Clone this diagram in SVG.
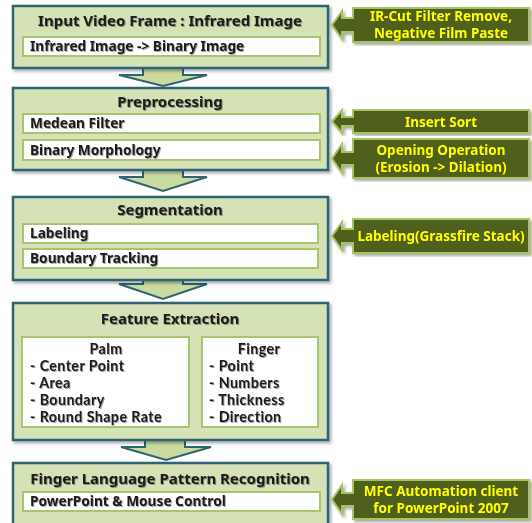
<svg xmlns="http://www.w3.org/2000/svg" width="532" height="523" viewBox="0 0 532 523">
<defs>
<filter id="sh" x="-5%" y="-5%" width="112%" height="115%">
<feDropShadow dx="2" dy="2" stdDeviation="1.5" flood-color="#000" flood-opacity="0.35"/>
</filter>
<filter id="ts" x="-5%" y="-20%" width="110%" height="150%">
<feDropShadow dx="1" dy="1" stdDeviation="0.6" flood-color="#000" flood-opacity="0.35"/>
</filter>
</defs>
<style>
.box{fill:#d4e2b6;stroke:#2f6474;stroke-width:2.5}
.inner{fill:#ffffff;stroke:#a9c46e;stroke-width:2}
.arr{fill:#c9dba0;stroke:#2f6474;stroke-width:2}
.co{fill:#4f5f1a;stroke:#a6c45e;stroke-width:2}
.t{font-family:"Noto Sans","Open Sans",sans-serif;font-weight:bold;fill:#1a1a1a}
.title{font-size:15px;text-anchor:middle}
.it{font-size:13.7px}
.li{font-family:Lato,"Noto Sans",sans-serif;font-weight:bold;fill:#1a1a1a;font-size:14.2px;letter-spacing:0.45px}
.ct{font-family:"Noto Sans","Open Sans",sans-serif;font-weight:bold;fill:#ffff00;font-size:13.5px;text-anchor:middle}
</style>

<g id="connectors">
<path class="arr" d="M143,67 L183,67 L183,75 L207,75 L163,86 L119,75 L143,75 Z"/>
<path class="arr" d="M143,169 L183,169 L183,177 L207,177 L163,191 L119,177 L143,177 Z"/>
<path class="arr" d="M143,279 L183,279 L183,284 L207,284 L163,299 L119,284 L143,284 Z"/>
<path class="arr" d="M145,439 L185,439 L185,447 L211,447 L166,460 L121,447 L145,447 Z"/>
</g>

<g id="n1" filter="url(#sh)">
<rect class="box" x="13" y="6" width="315" height="62"/>
<rect class="inner" x="23" y="37" width="297" height="19"/>
</g>
<g id="n1t" filter="url(#ts)">
<text class="t title" x="170" y="26">Input Video Frame : Infrared Image</text>
<text class="t it" x="30" y="51">Infrared Image -&gt; Binary Image</text>
</g>

<g id="n2" filter="url(#sh)">
<rect class="box" x="13" y="88" width="315" height="82"/>
<rect class="inner" x="23" y="114" width="297" height="19"/>
<rect class="inner" x="23" y="140" width="297" height="20"/>
</g>
<g id="n2t" filter="url(#ts)">
<text class="t title" x="170" y="107">Preprocessing</text>
<text class="t it" x="30" y="128">Medean Filter</text>
<text class="t it" x="30" y="155">Binary Morphology</text>
</g>

<g id="n3" filter="url(#sh)">
<rect class="box" x="13" y="197" width="315" height="83"/>
<rect class="inner" x="23" y="224" width="295" height="19"/>
<rect class="inner" x="23" y="249" width="295" height="19"/>
</g>
<g id="n3t" filter="url(#ts)">
<text class="t title" x="170" y="215">Segmentation</text>
<text class="t it" x="30" y="238">Labeling</text>
<text class="t it" x="30" y="263">Boundary Tracking</text>
</g>

<g id="n4" filter="url(#sh)">
<rect class="box" x="13" y="303" width="315" height="137"/>
<rect class="inner" x="22" y="337" width="167" height="90"/>
<rect class="inner" x="202" y="337" width="116" height="90"/>
</g>
<g id="n4t" filter="url(#ts)">
<text class="t title" x="170" y="324">Feature Extraction</text>
<text class="li" x="106" y="354" text-anchor="middle">Palm</text>
<text class="li" x="30" y="371">- Center Point</text>
<text class="li" x="30" y="388">- Area</text>
<text class="li" x="30" y="405">- Boundary</text>
<text class="li" x="30" y="422">- Round Shape Rate</text>
<text class="li" x="259" y="354" text-anchor="middle">Finger</text>
<text class="li" x="209" y="371">- Point</text>
<text class="li" x="209" y="388">- Numbers</text>
<text class="li" x="209" y="405">- Thickness</text>
<text class="li" x="209" y="422">- Direction</text>
</g>

<g id="n5" filter="url(#sh)">
<rect class="box" x="13" y="463" width="315" height="62"/>
<rect class="inner" x="23" y="492" width="297" height="19"/>
</g>
<g id="n5t" filter="url(#ts)">
<text class="t title" x="170" y="484">Finger Language Pattern Recognition</text>
<text class="t it" x="30" y="506">PowerPoint &amp; Mouse Control</text>
</g>

<g id="c1" filter="url(#sh)">
<path class="co" d="M353,8 L529,8 L529,42 L353,42 L353,32 L342,32 L342,39 L332,25 L342,11 L342,18 L353,18 Z"/>
<text class="ct" x="441" y="21">IR-Cut Filter Remove,</text>
<text class="ct" x="441" y="38">Negative Film Paste</text>
</g>
<g id="c2" filter="url(#sh)">
<path class="co" d="M353,110 L529,110 L529,133 L353,133 L353,126 L342,126 L342,133 L332,121.5 L342,110 L342,117 L353,117 Z"/>
<text class="ct" x="441" y="126.5">Insert Sort</text>
</g>
<g id="c3" filter="url(#sh)">
<path class="co" d="M353,139 L529,139 L529,178 L353,178 L353,165 L342,165 L342,173 L332,158.5 L342,144 L342,152 L353,152 Z"/>
<text class="ct" x="441" y="155">Opening Operation</text>
<text class="ct" x="441" y="172">(Erosion -&gt; Dilation)</text>
</g>
<g id="c4" filter="url(#sh)">
<path class="co" d="M353,219 L529,219 L529,253 L353,253 L353,243 L342,243 L342,250 L332,236 L342,222 L342,229 L353,229 Z"/>
<text class="ct" x="441" y="241">Labeling(Grassfire Stack)</text>
</g>
<g id="c5" filter="url(#sh)">
<path class="co" d="M353,480 L529,480 L529,519 L353,519 L353,506 L342,506 L342,514 L332,499.5 L342,485 L342,493 L353,493 Z"/>
<text class="ct" x="441" y="496">MFC Automation client</text>
<text class="ct" x="441" y="513">for PowerPoint 2007</text>
</g>
</svg>
